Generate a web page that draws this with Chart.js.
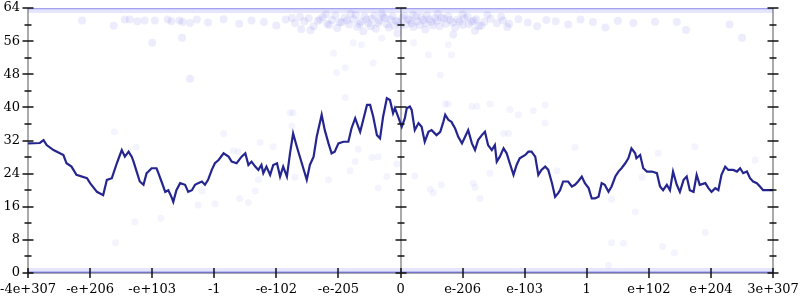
<!DOCTYPE html>
<html>
<head>
<meta charset="utf-8">
<script src="https://cdn.jsdelivr.net/npm/chart.js@4.4.1/dist/chart.umd.min.js"></script>
<style>
  body { margin: 0; background: #fff; }
  canvas { display: block; }
</style>
</head>
<body>
<canvas id="bitsChart" width="800" height="300"></canvas>
<script>
// tick labels along the bottom, one per slot from -6 to 6
const xLabels = ['-4e+307', '-e+206', '-e+103', '-1', '-e-102', '-e-205', '0',
                 'e-206', 'e-103', '1', 'e+102', 'e+204', '3e+307'];

// running line (slot position, value)
const lineX = [-6.00, -5.81, -5.75, -5.70, -5.59, -5.43, -5.38, -5.30, -5.22, -5.05, -5.00, -4.89, -4.79, -4.73,
  -4.65, -4.57, -4.52, -4.49, -4.44, -4.38, -4.33, -4.30, -4.25, -4.20, -4.14, -4.09, -4.06, -4.01, -3.93,
  -3.90, -3.85, -3.79, -3.74, -3.69, -3.66, -3.61, -3.55, -3.47, -3.42, -3.36, -3.31, -3.26, -3.20, -3.15,
  -3.10, -3.04, -2.99, -2.93, -2.85, -2.77, -2.72, -2.64, -2.56, -2.50, -2.45, -2.40, -2.34, -2.29, -2.24,
  -2.21, -2.16, -2.10, -2.05, -1.99, -1.94, -1.89, -1.83, -1.78, -1.73, -1.67, -1.59, -1.51, -1.46, -1.40,
  -1.35, -1.27, -1.22, -1.16, -1.11, -1.06, -1.00, -0.92, -0.84, -0.79, -0.73, -0.68, -0.65, -0.60, -0.54,
  -0.49, -0.44, -0.38, -0.33, -0.28, -0.22, -0.17, -0.12, -0.09, -0.04, 0.02, 0.07, 0.10, 0.15, 0.18, 0.23,
  0.29, 0.34, 0.39, 0.45, 0.50, 0.58, 0.64, 0.69, 0.72, 0.77, 0.82, 0.88, 0.93, 0.99, 1.04, 1.09, 1.15, 1.20,
  1.25, 1.31, 1.36, 1.41, 1.47, 1.52, 1.55, 1.60, 1.66, 1.71, 1.76, 1.82, 1.87, 1.92, 2.01, 2.06, 2.11, 2.17,
  2.22, 2.27, 2.33, 2.38, 2.44, 2.49, 2.54, 2.57, 2.62, 2.70, 2.76, 2.81, 2.86, 2.92, 2.97, 3.03, 3.08, 3.13,
  3.19, 3.24, 3.29, 3.35, 3.40, 3.46, 3.51, 3.56, 3.62, 3.67, 3.72, 3.78, 3.80, 3.86, 3.91, 3.97, 4.05, 4.13,
  4.18, 4.23, 4.29, 4.34, 4.39, 4.45, 4.50, 4.56, 4.61, 4.66, 4.72, 4.77, 4.82, 4.91, 4.96, 5.01, 5.07, 5.12,
  5.17, 5.23, 5.28, 5.36, 5.42, 5.47, 5.52, 5.58, 5.63, 5.68, 5.74, 5.79, 5.84, 6.00];
const lineY = [31.3, 31.4, 32.1, 30.9, 29.7, 28.5, 26.5, 25.7, 23.7, 22.9, 21.7, 19.6, 18.8, 22.5,
  22.9, 26.5, 28.5, 29.7, 28.1, 29.3, 28.1, 26.9, 24.5, 22.1, 21.3, 24.1, 24.5, 25.3, 25.3,
  24.1, 22.1, 19.6, 20.0, 18.4, 17.2, 20.0, 21.7, 21.3, 19.6, 20.0, 21.3, 21.7, 22.1, 21.3,
  22.5, 24.9, 26.5, 27.3, 28.9, 28.1, 26.9, 26.5, 28.1, 28.9, 26.1, 26.9, 25.7, 24.9, 26.1,
  24.1, 25.7, 23.7, 26.1, 26.5, 23.3, 25.7, 23.3, 28.9, 33.7, 30.5, 26.5, 22.5, 26.1, 28.1,
  32.9, 38.2, 34.5, 31.3, 28.9, 29.3, 31.3, 31.7, 31.7, 34.9, 37.4, 35.3, 34.1, 37.0, 40.6,
  40.6, 37.8, 33.3, 32.5, 37.8, 42.2, 41.8, 38.6, 39.8, 37.8, 35.3, 37.4, 39.8, 40.2, 39.4, 34.5,
  36.2, 35.3, 31.7, 34.1, 34.5, 33.3, 34.1, 36.5, 38.2, 37.0, 36.5, 34.9, 32.9, 31.3, 32.9, 34.5, 31.3, 29.7,
  32.1, 33.3, 34.1, 30.9, 29.7, 30.9, 26.9, 28.1, 30.1, 28.9, 26.5, 23.7, 26.1, 27.7, 28.5, 29.3, 29.3, 28.1,
  23.7, 24.9, 25.7, 24.9, 21.7, 18.4, 19.3, 20.0, 22.1, 22.1, 20.9, 21.3, 22.1, 23.3, 21.7, 20.5, 18.0, 18.0,
  18.4, 21.7, 21.3, 19.6, 20.9, 23.3, 24.5, 25.3, 26.5, 27.7, 30.1, 28.9, 27.7, 28.5, 25.3, 24.5, 24.5, 24.1,
  20.9, 20.0, 21.3, 20.0, 24.5, 21.3, 19.6, 22.5, 23.3, 20.0, 19.6, 23.7, 21.3, 21.7, 20.5, 19.6, 20.5, 20.0,
  23.7, 25.7, 24.9, 24.9, 24.5, 25.3, 24.1, 24.5, 22.9, 22.1, 21.7, 20.9, 20.0, 20.0];

// dense rows of faint points along the top and bottom
const bandX = [-6, 6];
const bandLevels = [0, 0.7, 63.3, 64];
const bandAlpha = [0.55, 0.14, 0.14, 0.5];
const bandWidth = [3, 4, 4, 2.5];

// cloud of faint points just under the top
const cloudX = [-5.13, -4.62, -4.44, -4.36, -4.24, -4.12, -4.00, -3.96, -3.75, -3.69, -3.56, -3.52, -3.51, -3.39,
  -3.39, -3.28, -3.10, -2.85, -2.60, -2.40, -2.20, -2.00, -1.85, -1.70, -1.60,
  -1.55, -1.48, -1.40, -1.33, -1.25, -1.18, -1.10, -1.02, -0.95, -0.90, -0.83, -0.76, -0.70, -0.64, -0.58,
  -0.52, -0.46, -0.40, -0.34, -0.28, -0.22, -0.16, -0.10, -0.04, 0.03, 0.09, 0.15, 0.21, 0.27, 0.33, 0.40,
  0.46, 0.52, 0.59, 0.66, 0.73, 0.80, 0.88, 0.95, 1.03, 1.10, 1.18, 1.26, 1.35, 1.45, 1.55,
  -1.20, -0.80, -0.30, 0.20, 0.60, 1.00, 1.40, -1.45, -0.60, 0.40, 1.20, -0.05, 0.85,
  1.65, 1.75, 1.90, 2.05, 2.20, 2.35, 2.50, 2.70, 2.90, 3.10, 3.30, 3.50, 3.75, 4.10, 4.45, 4.60, 5.30, 5.50,
  -1.30, -1.15, -1.05, -0.98, -0.86, -0.72, -0.66, -0.55, -0.48, -0.42, -0.36, -0.25, -0.19, -0.13, -0.07,
  0.00, 0.06, 0.12, 0.18, 0.25, 0.31, 0.37, 0.43, 0.50, 0.56, 0.63, 0.70, 0.77, 0.84, 0.92, 1.00, 1.08,
  1.15, 1.22, 1.30, -1.62, -1.75, 1.62, 1.72];
const cloudY = [61.0, 59.7, 61.2, 61.2, 60.8, 61.0, 55.6, 61.0, 61.2, 60.8, 61.0, 56.8, 60.6, 60.4,
  46.9, 61.2, 60.5, 61.3, 60.2, 61.0, 60.6, 59.8, 61.2, 60.4, 58.9,
  60.8, 61.5, 59.6, 60.9, 61.8, 60.2, 61.1, 59.2, 60.6, 61.7, 60.0, 61.3, 59.5, 60.7, 62.0,
  60.3, 61.4, 59.0, 60.9, 61.9, 60.1, 61.2, 59.7, 60.6, 61.6, 60.0, 61.0, 59.4, 60.8, 61.8, 60.4,
  61.3, 59.8, 60.9, 61.7, 60.2, 61.1, 59.3, 60.7, 61.5, 60.1, 61.0, 59.6, 60.6, 61.4, 60.3,
  62.5, 62.6, 62.7, 62.4, 62.6, 62.5, 62.3, 58.6, 58.4, 58.8, 58.5, 57.9, 57.6,
  61.0, 60.2, 61.3, 60.5, 59.6, 61.1, 60.8, 60.0, 61.2, 60.6, 59.3, 60.9, 60.4, 60.7, 60.6, 58.7, 60.0, 56.8,
  61.2, 59.9, 62.2, 60.5, 61.0, 62.3, 60.1, 61.2, 59.6, 62.1, 60.4, 61.5, 59.3, 62.0, 60.9,
  59.8, 62.1, 61.3, 60.3, 62.0, 59.9, 61.1, 62.2, 60.6, 61.6, 59.6, 61.4, 62.0, 60.5, 61.2, 59.9, 61.9,
  60.6, 61.3, 59.8, 61.9, 61.6, 61.9, 59.4];

// scattered faint points in the middle
const sparseX = [-4.28, -3.86, -4.59, 3.78, 3.40, 3.59, 4.22, 4.41, 4.91, 3.35,
  -1.03, -0.89, -0.44, -1.08, -0.63, -0.30, 0.45, 0.82, 0.64, 0.77, 0.21, -0.76,
  -4.26, -2.85, -2.69, -2.61, -2.26, -2.29, -2.34, -2.59, -2.45, -3.26, -2.99, -3.20,
  -1.78, -1.73, -1.75, -0.89, -2.05, -0.68, -0.46, -0.36, -0.73, -1.70, -0.81, -0.22, -1.16, -0.36,
  0.72, 0.77, 1.15, 1.23, 1.44, 1.76, 1.90, 2.33, 2.33, 2.14, 1.66, 1.74, -0.06, 0.23, 1.44, 1.17,
  1.20, 0.66, 0.48, 0.53, 1.28, 2.52, 2.81, 4.15, 4.74, 5.71, 3.89, 3.40, -4.61];
const sparseY = [12.4, 13.2, 7.3, 14.8, 7.3, 7.2, 6.4, 4.9, 9.8, 1.9,
  48.4, 49.6, 50.7, 53.1, 55.1, 56.7, 52.7, 52.7, 47.8, 55.1, 55.6, 55.6,
  30.4, 33.7, 29.5, 29.3, 31.5, 22.6, 19.8, 18.0, 17.0, 16.4, 16.7, 19.8,
  38.7, 38.7, 35.5, 42.4, 30.5, 29.9, 27.9, 28.1, 26.9, 23.1, 24.7, 23.3, 22.5, 20.5,
  40.8, 40.8, 40.2, 40.3, 40.8, 39.5, 38.2, 40.6, 36.2, 39.2, 33.7, 33.7, 26.3, 23.4, 24.1, 21.7,
  20.7, 21.3, 20.2, 19.4, 18.0, 24.7, 30.4, 28.9, 30.5, 27.3, 23.1, 17.8, 34.1];

const yTicks = { min: 0, max: 64, step: 8 };

const toPoints = (xs, ys) => xs.map((x, i) => ({ x: x, y: ys[i] }));

// gray axis lines under the data, black tick marks over it
const axesPlugin = {
  id: 'axes',
  beforeDatasetsDraw(chart) {
    const { ctx, scales: { x, y } } = chart;
    const top = y.getPixelForValue(yTicks.max);
    const bottom = y.getPixelForValue(yTicks.min);
    ctx.save();
    ctx.strokeStyle = '#aaaaaa';
    ctx.lineWidth = 2;
    ctx.beginPath();
    [-6, 0, 6].forEach(v => {
      const px = Math.round(x.getPixelForValue(v));
      ctx.moveTo(px, top);
      ctx.lineTo(px, bottom);
    });
    ctx.moveTo(x.left, bottom);
    ctx.lineTo(x.right, bottom);
    ctx.stroke();
    ctx.restore();
  },
  afterDatasetsDraw(chart) {
    const { ctx, scales: { x, y } } = chart;
    const bottom = Math.round(y.getPixelForValue(0));
    ctx.save();
    ctx.strokeStyle = '#111';
    ctx.lineWidth = 1.5;
    ctx.beginPath();
    [-6, 0, 6].forEach(v => {
      const px = Math.round(x.getPixelForValue(v));
      for (let t = yTicks.min; t <= yTicks.max; t += yTicks.step / 2) {
        const py = Math.round(y.getPixelForValue(t));
        const half = t % yTicks.step === 0 ? 5.5 : 3.5;
        ctx.moveTo(px - half, py);
        ctx.lineTo(px + half, py);
      }
    });
    for (let v = -6; v <= 6; v++) {
      const px = Math.round(x.getPixelForValue(v));
      ctx.moveTo(px, bottom - 5);
      ctx.lineTo(px, bottom + 5);
    }
    ctx.stroke();
    ctx.restore();
  }
};

const datasets = [
  {
    type: 'line',
    data: toPoints(lineX, lineY),
    borderColor: '#25258f',
    borderWidth: 2.2,
    pointRadius: 0,
    tension: 0
  },
  {
    type: 'scatter',
    data: toPoints(sparseX, sparseY),
    backgroundColor: 'rgba(70, 70, 230, 0.06)',
    borderWidth: 0,
    pointRadius: 3.5
  },
  {
    type: 'scatter',
    data: toPoints(cloudX, cloudY),
    backgroundColor: 'rgba(70, 70, 230, 0.1)',
    borderWidth: 0,
    pointRadius: 4
  }
];
bandLevels.forEach((lvl, i) => {
  datasets.push({
    type: 'line',
    data: bandX.map(x => ({ x: x, y: lvl })),
    borderColor: 'rgba(70, 70, 225, ' + bandAlpha[i] + ')',
    borderWidth: bandWidth[i],
    pointRadius: 0
  });
});

const tickFont = { family: 'DejaVu Serif', size: 13 };

new Chart(document.getElementById('bitsChart'), {
  type: 'scatter',
  data: { datasets: datasets },
  options: {
    responsive: false,
    animation: false,
    layout: { padding: { top: 8, right: 27, left: 0, bottom: 0 } },
    plugins: { legend: { display: false }, tooltip: { enabled: false } },
    scales: {
      x: {
        type: 'linear',
        min: -6,
        max: 6,
        grid: { display: false, drawTicks: true, tickLength: 9 },
        border: { display: false },
        afterFit: s => { s.height = 27; },
        ticks: {
          stepSize: 1,
          autoSkip: false,
          maxRotation: 0,
          padding: 0,
          color: '#000',
          font: tickFont,
          callback: (v, i) => xLabels[i]
        }
      },
      y: {
        min: yTicks.min,
        max: yTicks.max,
        grid: { display: false, drawTicks: true, tickLength: 8 },
        border: { display: false },
        afterFit: s => { s.width = 28; },
        ticks: {
          stepSize: yTicks.step,
          padding: 0,
          color: '#000',
          font: tickFont
        }
      }
    }
  },
  plugins: [axesPlugin]
});
</script>
</body>
</html>
